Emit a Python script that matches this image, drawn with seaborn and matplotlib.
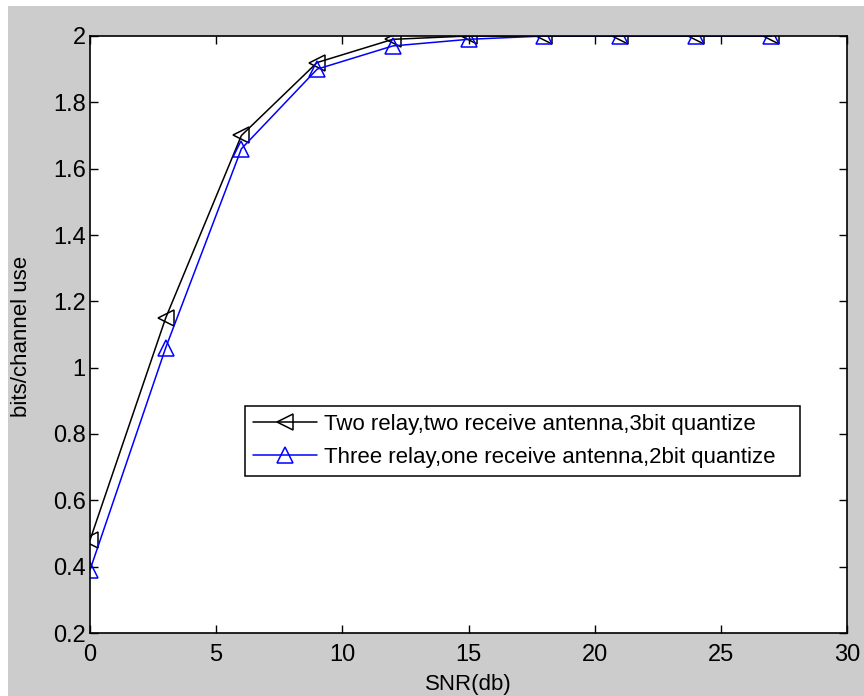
import matplotlib
matplotlib.use("Agg")
import matplotlib.pyplot as plt
from matplotlib.patches import Rectangle
import seaborn as sns
import pandas as pd

snr_db = [0, 3, 6, 9, 12, 15, 18, 21, 24, 27]
two_relay = [0.48, 1.15, 1.70, 1.92, 1.99, 2.0, 2.0, 2.0, 2.0, 2.0]
three_relay = [0.39, 1.06, 1.66, 1.90, 1.97, 1.99, 2.0, 2.0, 2.0, 2.0]
label_two = "Two relay,two receive antenna,3bit quantize"
label_three = "Three relay,one receive antenna,2bit quantize"
x_ticks = [0, 5, 10, 15, 20, 25, 30]
y_ticks = [0.2, 0.4, 0.6, 0.8, 1.0, 1.2, 1.4, 1.6, 1.8, 2.0]
y_tick_labels = ["0.2", "0.4", "0.6", "0.8", "1", "1.2", "1.4", "1.6", "1.8", "2"]

sns.set_theme(style="white")
plt.rcParams["font.family"] = ["Liberation Sans", "DejaVu Sans"]
plt.rcParams["text.color"] = "black"
plt.rcParams["axes.labelcolor"] = "black"

fig = plt.figure(figsize=(8.64, 6.96), dpi=100)
fig.patch.set_facecolor("#cccccc")
# white margins along the top and left edges
fig.patches.append(Rectangle((0, 1 - 6 / 696), 1, 6 / 696, transform=fig.transFigure,
                             facecolor="white", edgecolor="none", zorder=0))
fig.patches.append(Rectangle((0, 0), 8 / 864, 1, transform=fig.transFigure,
                             facecolor="white", edgecolor="none", zorder=0))

ax = fig.add_axes([90 / 864, 1 - 633 / 696, 757 / 864, (633 - 36) / 696])
ax.set_facecolor("white")

df_two = pd.DataFrame({"snr": snr_db, "rate": two_relay})
df_three = pd.DataFrame({"snr": snr_db, "rate": three_relay})

sns.lineplot(data=df_two, x="snr", y="rate", ax=ax, color="black", lw=1.1,
             marker="<", markersize=11, markerfacecolor="none",
             markeredgecolor="black", markeredgewidth=1.1, label=label_two)
sns.lineplot(data=df_three, x="snr", y="rate", ax=ax, color="blue", lw=1.1,
             marker="^", markersize=12, markerfacecolor="none",
             markeredgecolor="blue", markeredgewidth=1.1, label=label_three)

ax.set_xlim(0, 30)
ax.set_ylim(0.2, 2.0)
ax.set_xticks(x_ticks)
ax.set_xticklabels([str(t) for t in x_ticks])
ax.set_yticks(y_ticks)
ax.set_yticklabels(y_tick_labels)
ax.tick_params(direction="in", length=6, width=1, colors="black", labelsize=17,
               top=True, right=True, bottom=True, left=True)
ax.tick_params(axis="x", pad=8)
ax.tick_params(axis="y", pad=3)
for s in ax.spines.values():
    s.set_color("black")
    s.set_linewidth(1.2)

ax.set_xlabel("SNR(db)", fontsize=16, color="black")
ax.set_ylabel("bits/channel use", fontsize=16, color="black")
ax.xaxis.label.set(va="center", ha="center")
ax.yaxis.label.set(va="center", ha="center", rotation_mode="default")
ax.xaxis.set_label_coords(0.5, -0.087)
ax.yaxis.set_label_coords(-0.091, 0.496)

leg = ax.legend(loc="upper left", bbox_to_anchor=(0.205, 0.380, 0.733, 0.0),
                mode="expand", fontsize=16, frameon=True, fancybox=False,
                edgecolor="black", framealpha=1, borderpad=0.35, labelspacing=0.55,
                handlelength=2.9, handletextpad=0.3, borderaxespad=0)
leg.get_frame().set_linewidth(1.1)
for t in leg.get_texts():
    t.set_color("black")

fig.savefig("out.png", dpi=100, facecolor=fig.get_facecolor())
